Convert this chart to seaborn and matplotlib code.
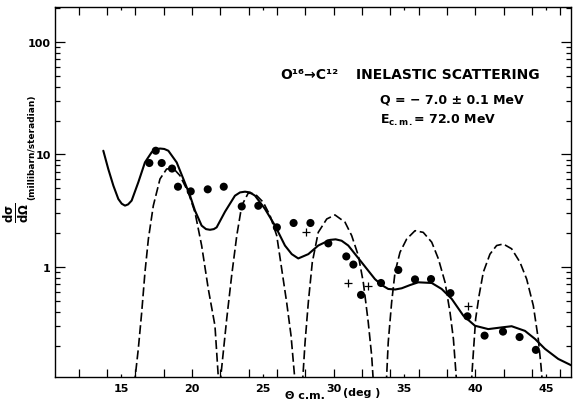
import pandas as pd
import matplotlib
matplotlib.use("Agg")
import matplotlib.pyplot as plt
import seaborn as sns

# measured points (theta c.m. in deg, dsigma/dOmega in mb/sr)
dot_theta = [17.0, 17.45, 17.87, 18.6, 19.02, 19.92, 21.12, 22.25, 23.52, 24.69,
             26.0, 27.18, 28.37, 29.63, 30.9, 31.4, 31.94, 33.35, 34.57, 35.75,
             36.88, 38.25, 39.45, 40.66, 41.96, 43.13, 44.28]
dot_sigma = [8.4, 10.8, 8.4, 7.5, 5.17, 4.7, 4.9, 5.17, 3.45, 3.5,
             2.25, 2.46, 2.46, 1.62, 1.24, 1.05, 0.564, 0.72, 0.94, 0.775,
             0.78, 0.585, 0.364, 0.245, 0.266, 0.238, 0.183]

plus_theta = [28.03, 31.02, 32.45, 39.5]
plus_sigma = [2.05, 0.716, 0.677, 0.453]

# solid theory curve
solid_theta = [13.75, 14.1, 14.46, 14.81, 15.05, 15.28, 15.5, 15.75, 16.22, 16.69,
               17.17, 17.45, 17.75, 18.05, 18.34, 18.93, 19.4, 19.87, 20.22, 20.69,
               21.0, 21.28, 21.55, 21.75, 22.34, 23.04, 23.4, 23.75, 24.1, 24.46,
               25.16, 25.87, 26.57, 27.05, 27.51, 28.22, 28.92, 29.75, 30.15, 30.57,
               31.04, 31.98, 32.92, 33.4, 33.86, 34.35, 34.81, 35.4, 35.98, 36.93,
               37.63, 38.34, 39.16, 39.98, 40.92, 41.87, 42.57, 43.51, 44.22, 44.92,
               45.86, 46.8]
solid_sigma = [10.8, 7.43, 5.28, 4.02, 3.65, 3.51, 3.6, 3.89, 5.66, 8.52,
               10.5, 11.1, 11.3, 11.2, 10.8, 8.5, 6.06, 4.3, 3.17, 2.33,
               2.17, 2.14, 2.17, 2.25, 3.1, 4.3, 4.6, 4.67, 4.6, 4.3,
               3.28, 2.33, 1.55, 1.3, 1.19, 1.3, 1.55, 1.74, 1.76, 1.71,
               1.55, 1.1, 0.78, 0.69, 0.637, 0.63, 0.646, 0.69, 0.73, 0.72,
               0.637, 0.52, 0.369, 0.30, 0.28, 0.29, 0.297, 0.27, 0.229, 0.187,
               0.152, 0.133]

# dashed theory curve, one lobe per diffraction maximum
dash_theta = [15.94, 16.22, 16.46, 16.69, 16.93, 17.28, 17.75, 18.22, 18.69, 19.16,
              19.75, 20.22, 20.69, 21.16, 21.63, 21.9,
              22.0, 22.06, 22.46, 22.81, 23.17, 23.52, 23.98, 24.46, 25.04, 25.52,
              25.99, 26.34, 26.69, 27.0, 27.3,
              27.8, 27.99, 28.22, 28.5, 28.92, 29.52, 30.1, 30.81, 31.28, 31.75,
              32.1, 32.45, 32.69, 32.82,
              33.72, 33.86, 34.1, 34.34, 34.69, 35.16, 35.75, 36.33, 36.93, 37.4,
              37.87, 38.22, 38.46, 38.7,
              39.72, 39.87, 40.03, 40.27, 40.57, 41.04, 41.51, 41.98, 42.57, 43.16,
              43.63, 44.1, 44.45, 44.64, 44.75]
dash_sigma = [0.09, 0.187, 0.395, 0.897, 1.77, 3.51, 6.06, 7.43, 7.54, 6.49,
              4.6, 3.06, 1.55, 0.637, 0.30, 0.09,
              0.09, 0.112, 0.345, 0.84, 1.9, 3.51, 4.54, 4.46, 3.76, 2.86,
              1.9, 0.96, 0.485, 0.245, 0.09,
              0.09, 0.214, 0.485, 1.1, 2.03, 2.67, 2.9, 2.5, 1.9, 1.26,
              0.73, 0.322, 0.163, 0.09,
              0.09, 0.214, 0.485, 0.897, 1.35, 1.77, 2.1, 2.03, 1.66, 1.18,
              0.73, 0.395, 0.229, 0.09,
              0.09, 0.175, 0.345, 0.555, 0.897, 1.3, 1.55, 1.6, 1.45, 1.1,
              0.78, 0.453, 0.229, 0.133, 0.09]
dash_lobe = [1] * 16 + [2] * 15 + [3] * 14 + [4] * 14 + [5] * 15

sns.set_style("ticks")
plt.rcParams["font.family"] = ["DejaVu Sans"]
plt.rcParams["font.weight"] = "bold"
plt.rcParams["mathtext.default"] = "regular"
plt.rcParams["text.color"] = "black"

W, H = 573, 406
fig = plt.figure(figsize=(W / 100, H / 100), dpi=100)
ax = fig.add_axes([55 / W, 28 / H, 516 / W, 370 / H])

solid_df = pd.DataFrame({"theta": solid_theta, "sigma": solid_sigma})
dash_df = pd.DataFrame({"theta": dash_theta, "sigma": dash_sigma, "lobe": dash_lobe})

sns.lineplot(data=solid_df, x="theta", y="sigma", color="black", lw=1.5, ax=ax)
sns.lineplot(data=dash_df, x="theta", y="sigma", units="lobe", estimator=None,
             color="black", lw=1.2, linestyle=(0, (5.4, 2.2)), ax=ax)
sns.scatterplot(x=dot_theta, y=dot_sigma, color="black", s=34, edgecolor="none", ax=ax)
sns.scatterplot(x=plus_theta, y=plus_sigma, color="black", marker="+", s=30,
                linewidth=0.9, ax=ax)

ax.set_yscale("log")
ax.set_xlim(10.34, 46.76)
ax.set_ylim(0.105, 205)

maj = list(range(12, 47, 2))
ax.set_xticks(maj, ["" if v not in (20, 30, 40) else str(v) for v in maj])
ax.set_xticks([15, 25, 35, 45], ["15", "25", "35", "45"], minor=True)
ax.set_yticks([1, 10, 100], ["1", "10", "100"])

ax.tick_params(which="both", direction="in", top=True, right=True,
               width=0.9, labelsize=8, colors="black")
ax.tick_params(axis="x", which="major", length=6, pad=4)
ax.tick_params(axis="x", which="minor", length=2.5, pad=4)
ax.tick_params(axis="y", which="major", length=7, pad=3)
ax.tick_params(axis="y", which="minor", length=3.5)
for s in ax.spines.values():
    s.set_linewidth(1.0)
    s.set_color("black")
ax.set_xlabel("")
ax.set_ylabel("")

# annotation block
fig.text(280 / W, 1 - 75 / H, "O¹⁶→C¹²", fontsize=10,
         fontweight="bold", va="center", ha="left")
fig.text(356 / W, 1 - 75 / H, "INELASTIC SCATTERING", fontsize=10,
         fontweight="bold", va="center", ha="left")
fig.text(380 / W, 1 - 100 / H, "Q = − 7.0 ± 0.1 MeV", fontsize=9,
         fontweight="bold", va="center", ha="left")
fig.text(380 / W, 1 - 120 / H, r"E$_{c.m.}$= 72.0 MeV", fontsize=9,
         fontweight="bold", va="center", ha="left")

# axis titles
fig.text(305 / W, 1 - 396 / H, "Θ c.m.", fontsize=8, fontweight="bold",
         va="center", ha="center")
fig.text(362 / W, 1 - 393 / H, "(deg )", fontsize=8, fontweight="bold",
         va="center", ha="center")
fig.text(16 / W, 1 - 213 / H, r"$\frac{d\sigma}{d\Omega}$", fontsize=12,
         rotation=90, va="center", ha="center")
fig.text(32 / W, 1 - 147 / H, "(millibarn/steradian)", fontsize=6.5,
         fontweight="bold", rotation=90, va="center", ha="center")

fig.savefig("out.png", dpi=100)
